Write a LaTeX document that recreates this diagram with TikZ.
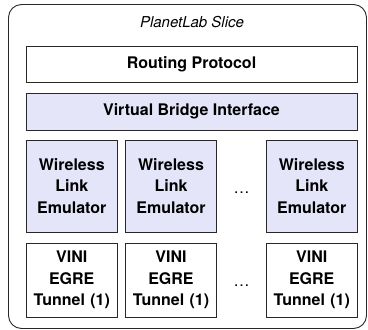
\documentclass[tikz,border=0pt]{standalone}
\usepackage{fontspec}
\setmainfont{TeX Gyre Heros}
\usepackage{tikz}
\usepackage{xcolor}
\definecolor{lavbox}{RGB}{229,229,250}
\definecolor{edgegray}{RGB}{40,40,40}

\begin{document}
\begin{tikzpicture}[x=1pt, y=-1pt,
  layer/.style={draw=edgegray, line width=0.9pt, inner sep=0pt, align=center,
    font=\fontsize{16}{21.5}\selectfont\bfseries},
  wide/.style={layer, minimum width=331pt, minimum height=36pt},
  cell/.style={layer, minimum width=91.5pt, text width=88pt},
  emul/.style={cell, fill=lavbox, minimum height=92pt},
  tunnel/.style={cell, minimum height=74pt}]
  \useasboundingbox (0,0) rectangle (368,330);
  %coordinates
  \coordinate (RPBox) at (191.5,64);
  \coordinate (VBBox) at (191.5,111.5);
  \coordinate (WL1)   at (71.75,186);
  \coordinate (WL2)   at (171,186);
  \coordinate (WL3)   at (311.75,186);
  \coordinate (VT1)   at (71.75,280);
  \coordinate (VT2)   at (171,280);
  \coordinate (VT3)   at (311.75,280);

  %slice frame
  \node[draw=edgegray, line width=0.9pt, rounded corners=13pt, minimum width=358pt, minimum height=324pt] (slice) at (187.5,166.5) {};
  \node[font=\fontsize{15}{18}\selectfont\itshape] (title) at (192,22) {PlanetLab Slice};

  %nodes
  \node[wide] (rp) at (RPBox) {Routing Protocol};
  \node[wide, fill=lavbox, minimum height=37pt] (vb) at (VBBox) {Virtual Bridge Interface};
  \node[emul] (w1) at (WL1) {Wireless\\Link\\Emulator};
  \node[emul] (w2) at (WL2) {Wireless\\Link\\Emulator};
  \node[emul] (w3) at (WL3) {Wireless\\Link\\Emulator};
  \node[tunnel] (t1) at (VT1) {VINI\\EGRE\\Tunnel (1)};
  \node[tunnel] (t2) at (VT2) {VINI\\EGRE\\Tunnel (1)};
  \node[tunnel] (t3) at (VT3) {VINI\\EGRE\\Tunnel (1)};
  \node[font=\fontsize{16}{18}\selectfont] (wdots) at (241.5,193) {\ldots};
  \node[font=\fontsize{16}{18}\selectfont] (tdots) at (241.5,286) {\ldots};

\end{tikzpicture}
\end{document}
